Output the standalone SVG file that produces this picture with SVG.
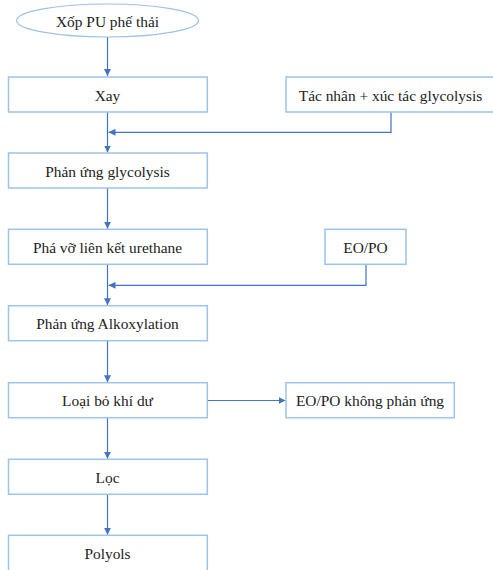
<svg xmlns="http://www.w3.org/2000/svg" width="493" height="570" viewBox="0 0 493 570">
<defs>
<marker id="ah" viewBox="0 0 10 10" refX="10" refY="5" markerWidth="7" markerHeight="7" markerUnits="userSpaceOnUse" orient="auto">
<path d="M0,0 L10,5 L0,10 z" fill="#4472C4"/>
</marker>
<style>
.box{fill:#fff;stroke:#9DC3E6;stroke-width:1.5}
.t{font-family:"Liberation Serif","Times New Roman",serif;font-size:15.4px;fill:#222;text-anchor:middle;dominant-baseline:central}
.c{fill:none;stroke:#4472C4;stroke-width:1.2}
</style>
</defs>
<rect width="493" height="570" fill="#fff"/>
<g id="connectors">
<path class="c" d="M107.5,37 V76" marker-end="url(#ah)"/>
<path class="c" d="M107.5,112 V152.5" marker-end="url(#ah)"/>
<path class="c" d="M391,112 V132.3 H108.5" marker-end="url(#ah)"/>
<path class="c" d="M107.5,188 V228.8" marker-end="url(#ah)"/>
<path class="c" d="M107.5,264.3 V305.2" marker-end="url(#ah)"/>
<path class="c" d="M366,264.3 V285.3 H108.5" marker-end="url(#ah)"/>
<path class="c" d="M107.5,340.7 V382.2" marker-end="url(#ah)"/>
<path class="c" d="M207.3,400.5 H285.5" marker-end="url(#ah)"/>
<path class="c" d="M107.5,417.7 V458.8" marker-end="url(#ah)"/>
<path class="c" d="M107.5,494.3 V534.8" marker-end="url(#ah)"/>
</g>
<g id="n_xop">
<ellipse cx="107.5" cy="20.5" rx="91" ry="16.5" fill="#fff" stroke="#9DC3E6" stroke-width="1.2"/>
<text class="t" x="107.5" y="21">Xốp PU phế thải</text>
</g>
<g id="n_xay">
<rect class="box" x="8.5" y="77" width="198.8" height="35"/>
<text class="t" x="107.5" y="95">Xay</text>
</g>
<g id="n_tacnhan">
<rect class="box" x="286" y="77" width="210" height="35"/>
<text class="t" x="390.5" y="95">Tác nhân + xúc tác glycolysis</text>
</g>
<g id="n_glyco">
<rect class="box" x="8.5" y="153" width="198.8" height="35"/>
<text class="t" x="107.5" y="171">Phản ứng glycolysis</text>
</g>
<g id="n_phavo">
<rect class="box" x="8.5" y="229.3" width="198.8" height="35"/>
<text class="t" x="107.5" y="247">Phá vỡ liên kết urethane</text>
</g>
<g id="n_eopo">
<rect class="box" x="325" y="229.3" width="81" height="35"/>
<text class="t" x="365.5" y="247">EO/PO</text>
</g>
<g id="n_alkoxy">
<rect class="box" x="8.5" y="305.7" width="198.8" height="35"/>
<text class="t" x="107.5" y="323.5">Phản ứng Alkoxylation</text>
</g>
<g id="n_loaibo">
<rect class="box" x="8.5" y="382.7" width="198.8" height="35"/>
<text class="t" x="107.5" y="400.5">Loại bỏ khí dư</text>
</g>
<g id="n_eopo_kpu">
<rect class="box" x="286" y="382.7" width="168.3" height="35"/>
<text class="t" x="370" y="400.5">EO/PO không phản ứng</text>
</g>
<g id="n_loc">
<rect class="box" x="8.5" y="459.3" width="198.8" height="35"/>
<text class="t" x="107.5" y="477">Lọc</text>
</g>
<g id="n_polyols">
<rect class="box" x="8.5" y="535.3" width="198.8" height="40"/>
<text class="t" x="107.5" y="553.5">Polyols</text>
</g>
</svg>
